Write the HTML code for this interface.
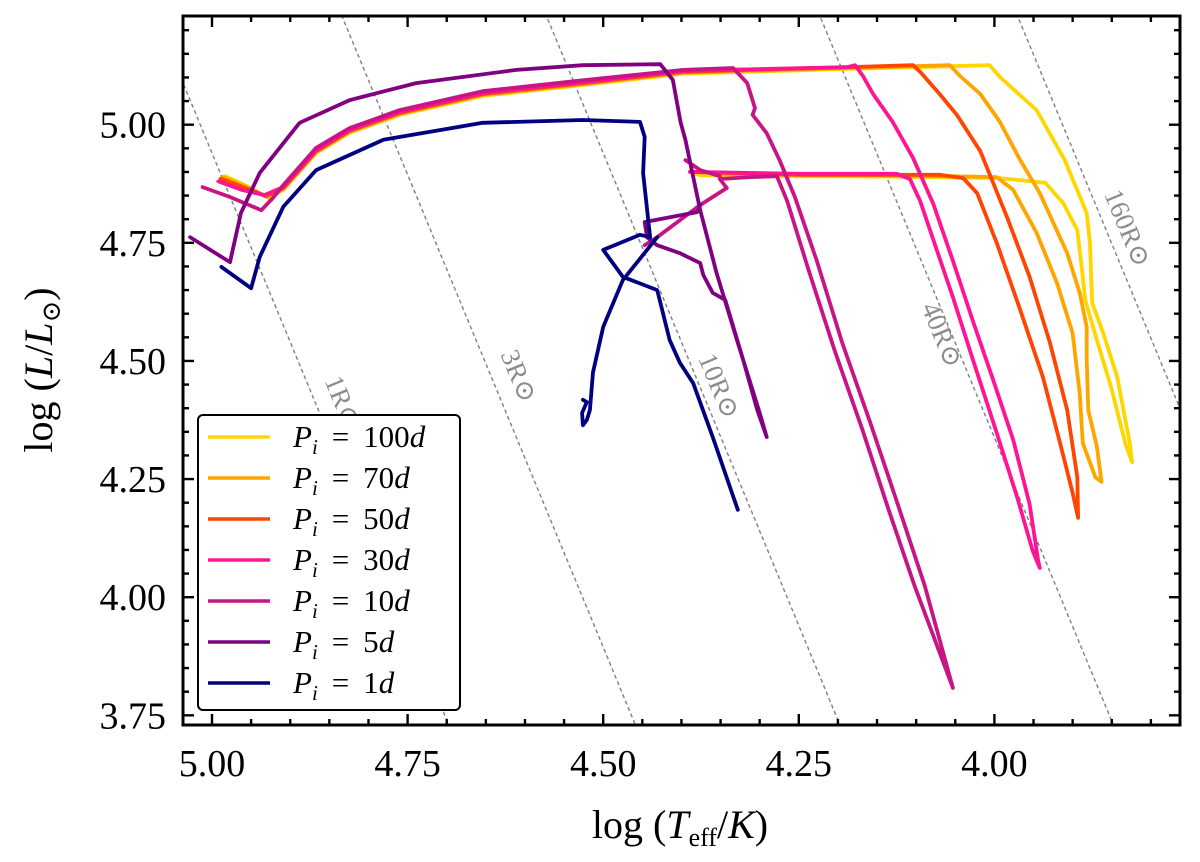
<!DOCTYPE html>
<html>
<head>
<meta charset="utf-8">
<style>
  html,body{margin:0;padding:0;background:#fff;overflow:hidden;}
  svg{display:block;}
  text{font-family:"Liberation Serif","DejaVu Serif",serif;}
</style>
</head>
<body>
<svg id="chart" width="1200" height="862" viewBox="0 0 1200 862" xmlns="http://www.w3.org/2000/svg">
  <rect x="0" y="0" width="1200" height="862" fill="#fff"/>
  <g id="radius-lines"></g>
  <g id="tracks"></g>
  <g id="axes"></g>
  <g id="legend"></g>
</svg>
<script>
// ---- axis data ----
const xTicks = [5.00, 4.75, 4.50, 4.25, 4.00];
const xTickLabels = ["5.00", "4.75", "4.50", "4.25", "4.00"];
const yTicks = [5.00, 4.75, 4.50, 4.25, 4.00, 3.75];
const yTickLabels = ["5.00", "4.75", "4.50", "4.25", "4.00", "3.75"];

// ---- radius lines (effective radius for line position, label) ----
const radiusValues = [1, 3, 10, 50, 160];
const radiusLabels = ["1", "3", "10", "40", "160"];
const radiusLabelT = [4.836, 4.611, 4.355, 4.070, 3.833];
const radiusLabelL = [4.411, 4.466, 4.445, 4.553, 4.779];

// ---- series ----
const seriesNames = ["100d", "70d", "50d", "30d", "10d", "5d", "1d"];
const seriesColors = ["#FFD700", "#FFA500", "#FF4500", "#FF1493", "#C71585", "#800080", "#000080"];

const teff100 = [4.983,4.955,4.928,4.909,4.867,4.824,4.760,4.654,4.526,4.398,4.188,4.006,3.993,3.946,3.910,3.882,3.878,3.875,3.861,3.843,3.827,3.824,3.832,3.850,3.869,3.884,3.888,3.894,3.912,3.935,3.993,4.121,4.249,4.376,4.389];
const lum100  = [4.891,4.870,4.845,4.862,4.940,4.983,5.021,5.061,5.084,5.108,5.118,5.126,5.101,5.031,4.925,4.813,4.750,4.623,4.559,4.466,4.326,4.286,4.322,4.439,4.544,4.629,4.692,4.777,4.834,4.877,4.887,4.890,4.891,4.893,4.900];

const teff70 = [4.986,4.957,4.930,4.909,4.867,4.824,4.760,4.654,4.526,4.398,4.188,4.057,4.044,4.018,3.993,3.967,3.942,3.907,3.891,3.882,3.882,3.880,3.869,3.863,3.871,3.887,3.891,3.900,3.920,3.946,3.976,3.997,4.057,4.185,4.312,4.389];
const lum70  = [4.889,4.869,4.847,4.864,4.942,4.985,5.023,5.063,5.086,5.110,5.120,5.126,5.103,5.065,5.006,4.925,4.855,4.728,4.644,4.572,4.502,4.396,4.318,4.244,4.254,4.326,4.432,4.559,4.665,4.771,4.862,4.889,4.891,4.894,4.894,4.900];

const teff50 = [4.989,4.959,4.931,4.909,4.867,4.824,4.760,4.654,4.526,4.398,4.188,4.104,4.095,4.070,4.048,4.018,3.984,3.955,3.929,3.907,3.894,3.893,3.900,3.916,3.938,3.967,3.997,4.022,4.040,4.070,4.249,4.389];
const lum50  = [4.886,4.867,4.849,4.866,4.944,4.987,5.025,5.065,5.088,5.112,5.122,5.126,5.112,5.065,5.021,4.944,4.805,4.678,4.538,4.396,4.254,4.168,4.221,4.326,4.466,4.608,4.750,4.855,4.887,4.894,4.894,4.900];

const teff30 = [4.992,4.962,4.933,4.909,4.867,4.824,4.760,4.654,4.526,4.398,4.188,4.178,4.168,4.155,4.130,4.104,4.078,4.053,4.027,4.002,3.976,3.955,3.944,3.942,3.951,3.971,3.997,4.027,4.053,4.078,4.095,4.108,4.125,4.249,4.389];
const lum30  = [4.880,4.862,4.851,4.868,4.946,4.989,5.027,5.067,5.090,5.114,5.122,5.126,5.103,5.065,5.006,4.930,4.832,4.712,4.582,4.462,4.333,4.197,4.077,4.062,4.098,4.212,4.348,4.500,4.635,4.756,4.839,4.885,4.896,4.896,4.900];

const teff10 = [5.012,4.977,4.937,4.922,4.909,4.867,4.824,4.760,4.654,4.526,4.398,4.334,4.316,4.306,4.309,4.291,4.274,4.255,4.227,4.194,4.159,4.125,4.089,4.053,4.102,4.136,4.169,4.204,4.238,4.265,4.278,4.312,4.351,4.342,4.376,4.431,4.447];
const lum10  = [4.868,4.847,4.819,4.845,4.872,4.951,4.993,5.031,5.071,5.094,5.116,5.120,5.088,5.035,5.021,4.982,4.923,4.847,4.712,4.536,4.371,4.204,4.024,3.808,4.024,4.189,4.356,4.521,4.695,4.839,4.891,4.889,4.885,4.866,4.830,4.762,4.745];
const teff10Hook = [4.395, 4.376, 4.351];
const lum10Hook  = [4.925, 4.904, 4.891];

const teff5 = [5.028,4.977,4.963,4.939,4.888,4.824,4.739,4.611,4.526,4.427,4.411,4.401,4.395,4.376,4.355,4.329,4.300,4.291,4.303,4.321,4.344,4.360,4.372,4.376,4.402,4.431,4.444,4.447,4.380,4.376];
const lum5  = [4.762,4.709,4.813,4.898,5.004,5.052,5.088,5.116,5.126,5.128,5.095,5.004,4.968,4.819,4.686,4.544,4.390,4.339,4.396,4.502,4.629,4.644,4.682,4.707,4.728,4.745,4.762,4.794,4.815,4.830];

const teff1 = [4.988,4.950,4.939,4.909,4.867,4.781,4.654,4.526,4.453,4.447,4.449,4.440,4.453,4.500,4.475,4.431,4.415,4.402,4.385,4.360,4.328];
const lum1  = [4.699,4.654,4.720,4.826,4.904,4.968,5.004,5.010,5.006,4.974,4.898,4.762,4.767,4.735,4.678,4.650,4.544,4.496,4.453,4.339,4.185];
const teff1Hook = [4.431,4.475,4.500,4.513,4.517,4.521,4.526,4.527,4.521,4.526];
const lum1Hook  = [4.762,4.671,4.572,4.476,4.396,4.375,4.364,4.390,4.413,4.418];

// ---- scales ----
const X0 = 183, X1 = 1180, Y0 = 16, Y1 = 725;
function sx(t){ return 212 + (5 - t) * 782.4; }
function sy(l){ return 124.7 + (5 - l) * 472.5; }
const NS = "http://www.w3.org/2000/svg";
function mk(tag, attrs, parent){
  const e = document.createElementNS(NS, tag);
  for (const k in attrs) e.setAttribute(k, attrs[k]);
  parent.appendChild(e);
  return e;
}
const svg = document.getElementById('chart');
const defs = mk('defs', {}, svg);
const cp = mk('clipPath', {id:'plotclip'}, defs);
mk('rect', {x:X0, y:Y0, width:X1-X0, height:Y1-Y0}, cp);

// ---- radius lines ----
const rg = document.getElementById('radius-lines');
rg.setAttribute('clip-path', 'url(#plotclip)');
radiusValues.forEach((r, i) => {
  const c = 2 * Math.log10(r) - 15.06;
  const tA = 5.05, tB = 3.74;
  const ln = mk('line', {x1:sx(tA), y1:sy(4*tA + c), x2:sx(tB), y2:sy(4*tB + c),
    stroke:'#808080', 'stroke-width':1.4, 'stroke-dasharray':'4,3'}, rg);
  
  
  const lx = sx(radiusLabelT[i]), ly = sy(radiusLabelL[i]);
  const tx = mk('text', {x:lx, y:ly, 'text-anchor':'middle', 'dominant-baseline':'middle',
    'font-size':27, fill:'#8c8c8c', transform:'rotate(67.5 ' + lx + ' ' + ly + ')'}, rg);
  tx.textContent = radiusLabels[i] + 'R\u2299';
  
  
});

// ---- tracks ----
const tg = document.getElementById('tracks');
tg.setAttribute('clip-path', 'url(#plotclip)');
const seriesSegments = [
  [[teff100, lum100]],
  [[teff70, lum70]],
  [[teff50, lum50]],
  [[teff30, lum30]],
  [[teff10, lum10], [teff10Hook, lum10Hook]],
  [[teff5, lum5]],
  [[teff1, lum1], [teff1Hook, lum1Hook]]
];
seriesSegments.forEach((segs, i) => {
  segs.forEach((seg, j) => {
    const [ts, ls] = seg;
    const pts = ts.map((t, k) => sx(t).toFixed(1) + ',' + sy(ls[k]).toFixed(1)).join(' ');
    const pl = mk('polyline', {points:pts, fill:'none', stroke:seriesColors[i], 'stroke-width':3.8,
      'stroke-linejoin':'round', 'stroke-linecap':'round'}, tg);
    
    
  });
});

// ---- axes ----
const ag = document.getElementById('axes');
function tickX(t, len){
  const x = sx(t);
  mk('line', {x1:x, y1:Y1, x2:x, y2:Y1-len, stroke:'#000', 'stroke-width':2.4}, ag);
  mk('line', {x1:x, y1:Y0, x2:x, y2:Y0+len, stroke:'#000', 'stroke-width':2.4}, ag);
}
function tickY(l, len){
  const y = sy(l);
  mk('line', {x1:X0, y1:y, x2:X0+len, y2:y, stroke:'#000', 'stroke-width':2.4}, ag);
  mk('line', {x1:X1, y1:y, x2:X1-len, y2:y, stroke:'#000', 'stroke-width':2.4}, ag);
}
for (let k = 0; k <= 26; k++){
  const tt = Math.round((5.05 - k * 0.05) * 100) / 100;
  const x = sx(tt);
  if (x < X0 + 1 || x > X1 - 1) continue;
  const major = Math.abs(tt * 4 - Math.round(tt * 4)) < 1e-6;
  tickX(tt, major ? 11 : 6);
}
for (let k = 0; k <= 30; k++){
  const l = Math.round((3.70 + k * 0.05) * 100) / 100;
  const y = sy(l);
  if (y < Y0 + 1 || y > Y1 - 1) continue;
  const major = Math.abs(l * 4 - Math.round(l * 4)) < 1e-6;
  tickY(l, major ? 11 : 6);
}
const frame = mk('rect', {x:X0, y:Y0, width:X1-X0, height:Y1-Y0, fill:'none', stroke:'#000', 'stroke-width':3}, ag);



xTicks.forEach((t, i) => {
  const tx = mk('text', {x:sx(t), y:776, 'text-anchor':'middle', 'font-size':38, fill:'#000'}, ag);
  tx.textContent = xTickLabels[i];
  
  
});
yTicks.forEach((l, i) => {
  const tx = mk('text', {x:166, y:sy(l) + 13, 'text-anchor':'end', 'font-size':38, fill:'#000'}, ag);
  tx.textContent = yTickLabels[i];
  
  
});
</script>

<script>
// axis titles + legend
(function(){
  const NS = "http://www.w3.org/2000/svg";
  const ag = document.getElementById('axes');
  const xt = document.createElementNS(NS, 'text');
  xt.setAttribute('x', 680); xt.setAttribute('y', 838);
  xt.setAttribute('text-anchor', 'middle'); xt.setAttribute('font-size', 40);
  xt.innerHTML = 'log (<tspan font-style="italic">T</tspan><tspan font-size="26" dy="8">eff</tspan><tspan dy="-8">/</tspan><tspan font-style="italic">K</tspan>)';
  
  
  ag.appendChild(xt);

  const yt = document.createElementNS(NS, 'text');
  yt.setAttribute('x', 0); yt.setAttribute('y', 0);
  yt.setAttribute('text-anchor', 'middle'); yt.setAttribute('font-size', 40);
  yt.setAttribute('transform', 'translate(52 370) rotate(-90)');
  yt.innerHTML = 'log (<tspan font-style="italic">L</tspan>/<tspan font-style="italic">L</tspan><tspan font-size="26" dy="8">\u2299</tspan><tspan dy="-8">)</tspan>';
  
  
  ag.appendChild(yt);

  const lg = document.getElementById('legend');
  const box = document.createElementNS(NS, 'rect');
  box.setAttribute('x', 198); box.setAttribute('y', 415);
  box.setAttribute('width', 262); box.setAttribute('height', 295);
  box.setAttribute('rx', 5); box.setAttribute('fill', '#fff');
  box.setAttribute('stroke', '#000'); box.setAttribute('stroke-width', 2);
  
  
  lg.appendChild(box);
  seriesNames.forEach((n, i) => {
    const y = 437 + i * 41;
    const g = document.createElementNS(NS, 'g');
    
    
    const ln = document.createElementNS(NS, 'line');
    ln.setAttribute('x1', 208); ln.setAttribute('x2', 270);
    ln.setAttribute('y1', y); ln.setAttribute('y2', y);
    ln.setAttribute('stroke', seriesColors[i]); ln.setAttribute('stroke-width', 3.6);
    
    
    g.appendChild(ln);
    const tx = document.createElementNS(NS, 'text');
    tx.setAttribute('x', 293); tx.setAttribute('y', y + 10);
    tx.setAttribute('font-size', 31);
    const num = n.replace('d', '');
    tx.innerHTML = '<tspan font-style="italic">P</tspan><tspan font-style="italic" font-size="21" dy="7">i</tspan><tspan dy="-7"> \u2009=\u2009 ' + num + '</tspan><tspan font-style="italic">d</tspan>';
    
    
    g.appendChild(tx);
    lg.appendChild(g);
  });
})();
</script>
</body>
</html>
